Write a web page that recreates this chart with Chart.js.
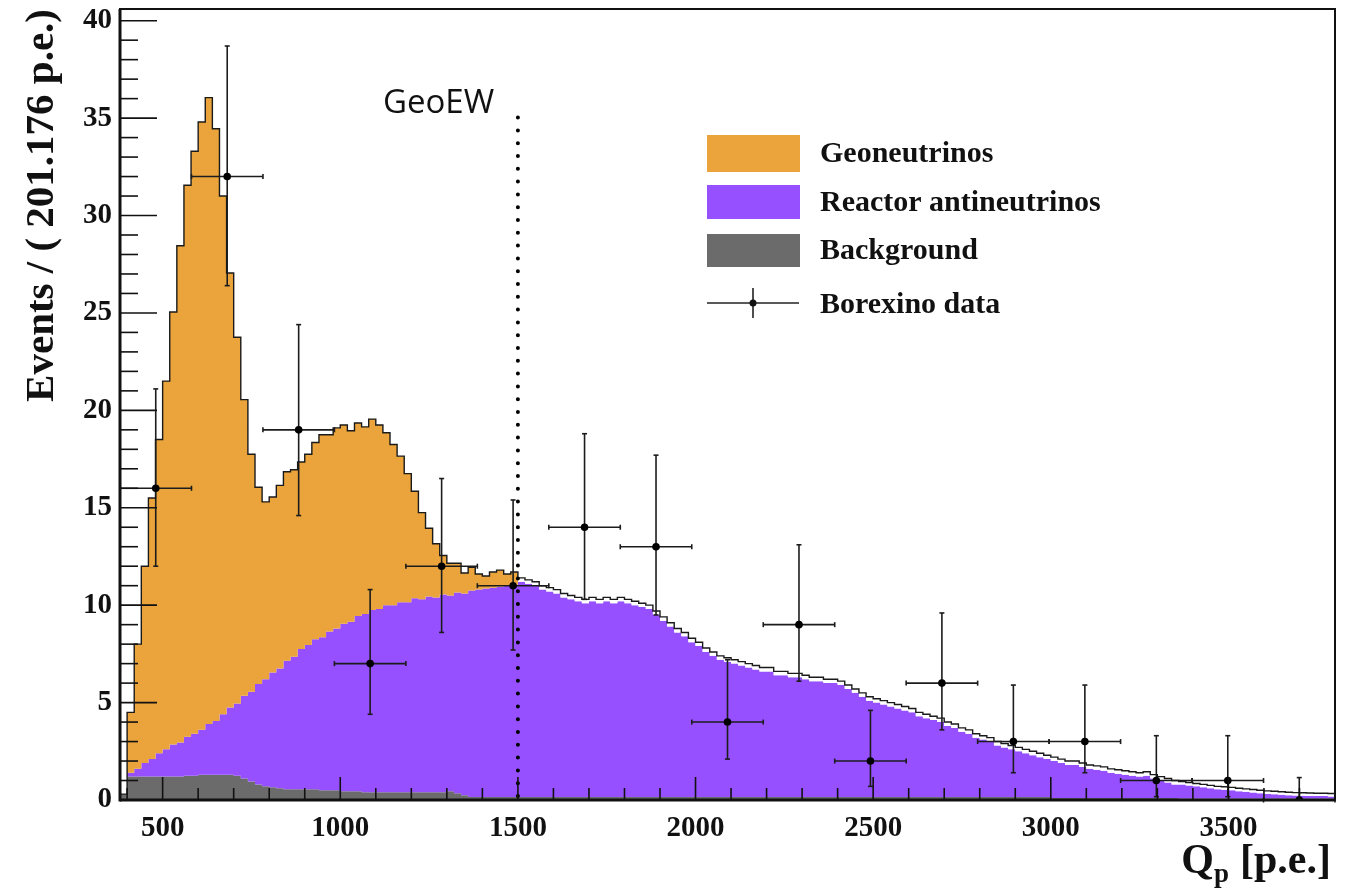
<!DOCTYPE html>
<html>
<head>
<meta charset="utf-8">
<title>Borexino Qp spectrum</title>
<script src="https://cdn.jsdelivr.net/npm/chart.js@4.4.1/dist/chart.umd.min.js"></script>
<style>
html, body { margin: 0; padding: 0; background: #fff; }
canvas { display: block; }
</style>
</head>
<body>
<canvas id="spektrum" width="1349" height="891"></canvas>
<script>
// MC histogram: 171 bins of 20 p.e. from 380 to 3800
const binStart = 380;
const binWidth = 20;

const background = [
    0.3, 1.2, 1.2, 1.2, 1.2, 1.2, 1.2, 1.2, 1.2, 1.25,
    1.25, 1.3, 1.3, 1.3, 1.3, 1.3, 1.25, 1.1, 0.95, 0.8,
    0.7, 0.65, 0.6, 0.55, 0.55, 0.55, 0.55, 0.55, 0.5, 0.5,
    0.5, 0.45, 0.45, 0.45, 0.4, 0.4, 0.4, 0.4, 0.4, 0.4,
    0.4, 0.4, 0.4, 0.4, 0.4, 0.4, 0.45, 0.35, 0.25, 0.15,
    0.15, 0.15, 0.15, 0.15, 0.15, 0.15, 0.15, 0.15, 0.15, 0.15,
    0.15, 0.15, 0.15, 0.15, 0.15, 0.15, 0.15, 0.15, 0.15, 0.15,
    0.15, 0.15, 0.15, 0.15, 0.15, 0.15, 0.15, 0.15, 0.15, 0.15,
    0.15, 0.15, 0.15, 0.15, 0.15, 0.15, 0.15, 0.15, 0.15, 0.15,
    0.15, 0.15, 0.15, 0.15, 0.15, 0.15, 0.15, 0.15, 0.15, 0.15,
    0.15, 0.15, 0.15, 0.15, 0.15, 0.15, 0.15, 0.15, 0.15, 0.15,
    0.15, 0.15, 0.15, 0.15, 0.15, 0.15, 0.15, 0.15, 0.15, 0.15,
    0.15, 0.15, 0.15, 0.15, 0.15, 0.15, 0.15, 0.15, 0.15, 0.15,
    0.15, 0.1, 0.1, 0.1, 0.1, 0.1, 0.1, 0.1, 0.1, 0.1,
    0.1, 0.1, 0.1, 0.1, 0.1, 0.1, 0.1, 0.1, 0.1, 0.08,
    0.08, 0.08, 0.08, 0.08, 0.08, 0.08, 0.08, 0.08, 0.08, 0.08,
    0.08, 0.08, 0.08, 0.08, 0.08, 0.08, 0.08, 0.08, 0.08, 0.08,
    0.08
];

const reactor = [
    0, 0.2, 0.4, 0.7, 0.9, 1.2, 1.4, 1.65, 1.75, 2.0,
    2.15, 2.3, 2.6, 2.75, 3.1, 3.45, 3.7, 4.25, 4.6, 5.15,
    5.5, 5.9, 6.15, 6.6, 6.8, 7.2, 7.4, 7.7, 7.85, 8.15,
    8.3, 8.6, 8.7, 9.0, 9.15, 9.35, 9.4, 9.6, 9.6, 9.75,
    9.75, 9.95, 9.9, 10.05, 10.0, 10.15, 10.05, 10.3, 10.35, 10.6,
    10.65, 10.7, 10.75, 10.8, 10.85, 10.9, 11.05, 10.95, 10.85, 10.65,
    10.55, 10.45, 10.25, 10.15, 10.05, 9.95, 10.05, 9.95, 10.05, 9.95,
    10.05, 9.95, 9.85, 9.75, 9.65, 9.35, 9.05, 8.75, 8.45, 8.25,
    7.95, 7.75, 7.45, 7.25, 7.05, 6.95, 6.85, 6.75, 6.65, 6.55,
    6.45, 6.45, 6.25, 6.25, 6.15, 6.15, 6.05, 5.95, 5.95, 5.85,
    5.85, 5.75, 5.55, 5.35, 5.15, 4.95, 4.85, 4.75, 4.65, 4.55,
    4.45, 4.35, 4.15, 4.05, 3.95, 3.85, 3.65, 3.55, 3.35, 3.25,
    3.05, 2.95, 2.85, 2.65, 2.55, 2.45, 2.35, 2.25, 2.15, 2.05,
    1.95, 1.9, 1.8, 1.7, 1.7, 1.6, 1.5, 1.45, 1.4, 1.3,
    1.25, 1.2, 1.15, 1.1, 1.15, 1.0, 0.9, 0.8, 0.7, 0.72,
    0.67, 0.62, 0.57, 0.52, 0.47, 0.45, 0.42, 0.37, 0.34, 0.31,
    0.27, 0.24, 0.22, 0.19, 0.17, 0.15, 0.14, 0.13, 0.12, 0.12,
    0.1
];

const geo = [
    0, 3.1, 6.4, 10.1, 13.4, 16.1, 18.9, 22.2, 25.5, 28.3,
    29.9, 31.2, 32.15, 30.4, 26.6, 22.3, 18.8, 15.2, 12.2, 10.1,
    9.1, 9.0, 9.4, 9.7, 9.6, 9.6, 9.8, 10.1, 10.4, 10.1,
    10.3, 10.2, 9.8, 9.9, 9.6, 9.8, 9.45, 8.85, 8.25, 7.5,
    6.6, 5.5, 4.45, 3.5, 2.75, 2.0, 1.65, 1.5, 1.05, 1.2,
    0.8, 0.65, 0.8, 0.85, 0.6, 0.65, 0.2, 0.2, 0.2, 0.2,
    0.2, 0.2, 0.2, 0.2, 0.2, 0.2, 0.2, 0.2, 0.2, 0.2,
    0.2, 0.2, 0.2, 0.2, 0.2, 0.2, 0.2, 0.2, 0.2, 0.2,
    0.2, 0.2, 0.2, 0.2, 0.2, 0.2, 0.2, 0.2, 0.2, 0.2,
    0.2, 0.2, 0.2, 0.2, 0.2, 0.2, 0.2, 0.2, 0.2, 0.2,
    0.2, 0.2, 0.2, 0.2, 0.2, 0.2, 0.2, 0.2, 0.2, 0.2,
    0.2, 0.2, 0.2, 0.2, 0.2, 0.2, 0.2, 0.2, 0.2, 0.2,
    0.2, 0.2, 0.2, 0.2, 0.2, 0.2, 0.2, 0.2, 0.2, 0.2,
    0.2, 0.2, 0.2, 0.2, 0.2, 0.2, 0.2, 0.2, 0.2, 0.2,
    0.2, 0.2, 0.2, 0.2, 0.2, 0.2, 0.2, 0.2, 0.2, 0.15,
    0.15, 0.15, 0.15, 0.15, 0.15, 0.15, 0.15, 0.15, 0.15, 0.15,
    0.15, 0.15, 0.15, 0.15, 0.15, 0.15, 0.15, 0.15, 0.15, 0.15,
    0.15
];

// Borexino data: 17 bins of 201.176 p.e.
const dataX = [480.6, 681.8, 882.9, 1084.1, 1285.3, 1486.5, 1687.6, 1888.8, 2090.0,
               2291.2, 2492.4, 2693.5, 2894.7, 3095.9, 3297.1, 3498.2, 3699.4];
const dataY = [16, 32, 19, 7, 12, 11, 14, 13, 4, 9, 2, 6, 3, 3, 1, 1, 0];
const errUp = [5.1, 6.7, 5.4, 3.8, 4.5, 4.4, 4.8, 4.7, 3.2, 4.1, 2.6, 3.6, 2.9, 2.9, 2.3, 2.3, 1.15];
const errDown = [4.0, 5.6, 4.4, 2.6, 3.4, 3.3, 3.7, 3.5, 1.9, 2.9, 1.3, 2.4, 1.6, 1.6, 0.83, 0.83, 0];
const halfBin = 100.6;

const xTicks = [500, 1000, 1500, 2000, 2500, 3000, 3500];
const yTicks = [0, 5, 10, 15, 20, 25, 30, 35, 40];

const geoEW = 1500;       // energy window cut
const geoEWTop = 35.3;
const geoFillEnd = 1500;  // geoneutrino fill stops here

const ORANYE = '#EAA43B';
const UNGU = '#9650FF';
const ABU = '#6B6B6B';
const SERIF = '"Liberation Serif", "Times New Roman", serif';

Chart.defaults.font.family = SERIF;

// step points at bin starts, plus closing edge
function titikTangga(nilai) {
    const pts = nilai.map((v, i) => ({ x: binStart + i * binWidth, y: v }));
    pts.push({ x: binStart + nilai.length * binWidth, y: nilai[nilai.length - 1] });
    return pts;
}

const atasReaktor = reactor.map((v, i) => v + background[i]);
const atasTotal = geo.map((v, i) => v + atasReaktor[i]);

function garis(ctx, x0, y0, x1, y1) {
    ctx.beginPath(); ctx.moveTo(x0, y0); ctx.lineTo(x1, y1); ctx.stroke();
}

const errorBar = {
    id: 'errorBar',
    beforeDatasetDraw(chart, args) {
        if (args.index !== 3) return;
        const ctx = chart.ctx, sx = chart.scales.x, sy = chart.scales.y;
        ctx.save();
        ctx.strokeStyle = '#1c1c1c'; ctx.lineWidth = 1.6;
        dataX.forEach((x, i) => {
            const px = sx.getPixelForValue(x), py = sy.getPixelForValue(dataY[i]);
            const x0 = sx.getPixelForValue(x - halfBin), x1 = sx.getPixelForValue(x + halfBin);
            const yA = sy.getPixelForValue(dataY[i] + errUp[i]);
            const yB = sy.getPixelForValue(dataY[i] - errDown[i]);
            garis(ctx, x0, py, x1, py);
            garis(ctx, px, yA, px, yB);
            garis(ctx, x0, py - 2.5, x0, py + 2.5);
            garis(ctx, x1, py - 2.5, x1, py + 2.5);
            garis(ctx, px - 2.5, yA, px + 2.5, yA);
            if (errDown[i] > 0) garis(ctx, px - 2.5, yB, px + 2.5, yB);
        });
        ctx.restore();
    }
};

const bingkai = {
    id: 'bingkai',
    afterDatasetsDraw(chart) {
        const ctx = chart.ctx, ka = chart.chartArea, sx = chart.scales.x, sy = chart.scales.y;
        ctx.save();
        // dotted GeoEW line
        ctx.strokeStyle = '#000'; ctx.lineWidth = 4; ctx.lineCap = 'round';
        ctx.setLineDash([0, 12.8]);
        const gx = sx.getPixelForValue(geoEW);
        garis(ctx, gx, ka.bottom - 4, gx, sy.getPixelForValue(geoEWTop));
        ctx.setLineDash([]); ctx.lineCap = 'butt';

        // ticks pointing inward
        ctx.strokeStyle = '#111'; ctx.lineWidth = 1.6;
        for (let v = 400; v <= 3800; v += 100) {
            const px = sx.getPixelForValue(v);
            garis(ctx, px, ka.bottom, px, ka.bottom - (v % 500 === 0 ? 23 : 12));
        }
        for (let v = 0; v <= 40; v += 1) {
            const py = sy.getPixelForValue(v);
            garis(ctx, ka.left, py, ka.left + (v % 5 === 0 ? 37 : 18), py);
        }

        // frame
        ctx.lineWidth = 2;
        ctx.strokeRect(ka.left, ka.top, ka.right - ka.left, ka.bottom - ka.top);
        ctx.lineWidth = 3;
        garis(ctx, ka.left, ka.top, ka.left, ka.bottom + 1.5);
        garis(ctx, ka.left, ka.bottom, ka.right, ka.bottom);
        ctx.restore();
    },
    afterDraw(chart) {
        const ctx = chart.ctx;
        ctx.save();
        ctx.fillStyle = '#111';

        // GeoEW label
        ctx.font = '33px "Open Sans", sans-serif';
        ctx.textBaseline = 'alphabetic';
        ctx.fillText('GeoEW', 383, 113);

        // legend
        const kotak = [[ORANYE, 135, 37, 'Geoneutrinos'], [UNGU, 185, 34, 'Reactor antineutrinos'], [ABU, 234, 33, 'Background']];
        ctx.font = 'bold 30px ' + SERIF;
        ctx.textBaseline = 'middle';
        kotak.forEach(([warna, y, h, teks]) => {
            ctx.fillStyle = warna; ctx.fillRect(707, y, 93, h);
            ctx.fillStyle = '#111'; ctx.fillText(teks, 820, y + h / 2 + 1);
        });
        ctx.strokeStyle = '#222'; ctx.lineWidth = 1.6;
        garis(ctx, 707, 303, 799, 303);
        garis(ctx, 753, 288, 753, 318);
        ctx.beginPath(); ctx.arc(753, 303, 3.5, 0, Math.PI * 2); ctx.fill();
        ctx.fillText('Borexino data', 820, 305);

        // x title with subscript
        ctx.textBaseline = 'alphabetic';
        ctx.textAlign = 'right';
        let x = 1331;
        const base = 873;
        ctx.font = 'bold 42px ' + SERIF;
        ctx.fillText('[p.e.]', x, base);
        x -= ctx.measureText('[p.e.]').width + 11;
        ctx.font = 'bold 27px ' + SERIF;
        ctx.fillText('p', x, base + 9);
        x -= ctx.measureText('p').width;
        ctx.font = 'bold 42px ' + SERIF;
        ctx.fillText('Q', x, base);
        ctx.restore();
    }
};

new Chart(document.getElementById('spektrum'), {
    type: 'line',
    data: {
        datasets: [
            { label: 'Background', data: titikTangga(background), stepped: true, fill: 'origin',
              backgroundColor: ABU, borderColor: 'rgba(0,0,0,0)', borderWidth: 0, pointRadius: 0, order: 3 },
            { label: 'Reactor antineutrinos', data: titikTangga(atasReaktor), stepped: true, fill: '-1',
              backgroundColor: UNGU, borderColor: 'rgba(0,0,0,0)', borderWidth: 0, pointRadius: 0, order: 2 },
            { label: 'Geoneutrinos', data: titikTangga(atasTotal), stepped: true, fill: '-1',
              backgroundColor: ORANYE, borderColor: '#1a1a1a', borderWidth: 1.4, pointRadius: 0, order: 1,
              segment: { backgroundColor: c => c.p0.parsed.x >= geoFillEnd ? '#ffffff' : ORANYE } },
            { type: 'scatter', label: 'Borexino data', data: dataX.map((x, i) => ({ x, y: dataY[i] })),
              pointRadius: 3.8, pointBackgroundColor: '#000', pointBorderWidth: 0, showLine: false, order: 0 }
        ]
    },
    options: {
        responsive: false,
        animation: false,
        devicePixelRatio: 1,
        layout: { padding: { left: 0, right: 14, top: 9, bottom: 0 } },
        plugins: { legend: { display: false }, tooltip: { enabled: false } },
        scales: {
            x: {
                type: 'linear', min: 380, max: 3800,
                afterBuildTicks: s => { s.ticks = xTicks.map(v => ({ value: v })); },
                afterFit: s => { s.height = 91; s.paddingLeft = 0; s.paddingRight = 0; },
                grid: { display: false, drawTicks: false },
                border: { display: false },
                ticks: { color: '#111', padding: 11, maxRotation: 0, autoSkip: false,
                         font: { size: 29, weight: 'bold' }, callback: v => String(v) }
            },
            y: {
                min: 0, max: 40.6,
                afterBuildTicks: s => { s.ticks = yTicks.map(v => ({ value: v })); },
                afterFit: s => { s.width = 120; s.paddingTop = 0; s.paddingBottom = 0; },
                grid: { display: false, drawTicks: false },
                border: { display: false },
                ticks: { color: '#111', padding: 8, font: { size: 29, weight: 'bold' }, callback: v => String(v) },
                title: { display: true, text: 'Events / ( 201.176 p.e.)', align: 'end', color: '#111',
                         font: { size: 41, weight: 'bold' }, padding: { top: 18, bottom: 0 } }
            }
        }
    },
    plugins: [errorBar, bingkai]
});
</script>
</body>
</html>
